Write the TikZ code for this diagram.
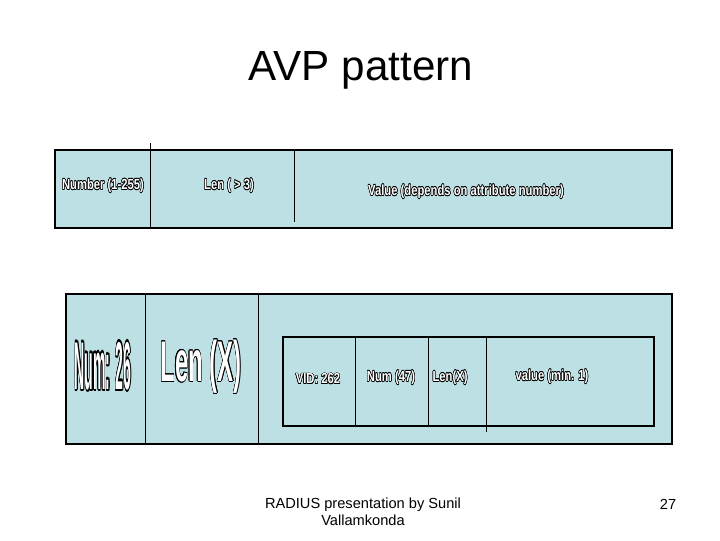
\documentclass[tikz,border=0pt]{standalone}
\usepackage{fontspec}
\setmainfont{Liberation Sans}
\usepackage{contour}
\contourlength{0.35pt}
\contournumber{12}
\usetikzlibrary{positioning}
\definecolor{fieldblue}{RGB}{188,224,228}

% white letters with a thin black rim
\newcommand{\hollow}[1]{\contour{black}{\textcolor{white}{#1}}}

\begin{document}
\begin{tikzpicture}[x=0.025cm, y=-0.025cm,
  box/.style={draw=black, fill=fieldblue, line width=0.8pt},
  sep/.style={draw=black, line width=0.6pt},
  frame/.style={draw=black, line width=0.8pt},
  fld/.style={inner sep=0pt, font=\bfseries\fontsize{8}{9}\selectfont},
  big/.style={inner sep=0pt, font=\bfseries},
  title/.style={font=\fontsize{30}{36}\selectfont},
  foot/.style={font=\fontsize{10.4}{12}\selectfont, align=center}
]
\useasboundingbox (0,0) rectangle (720,540);

\node[title] (ttl) at (361,70) {AVP pattern};

% plain AVP layout
\draw[box] (55,150) rectangle (672,228);
\draw[sep] (150,143) -- (150,228);
\draw[sep] (294,150) -- (294,222);

\node[fld] (number) at (103,186) {\scalebox{1}[1.3]{\hollow{Number (1-255)}}};
\node[fld] (len)    at (229,186) {\scalebox{1}[1.3]{\hollow{Len ( > 3)}}};
\node[fld] (value)  at (466,192) {\scalebox{1}[1.3]{\hollow{Value (depends on attribute number)}}};

% vendor specific AVP
\draw[box] (66,294) rectangle (672,444);
\draw[sep] (145,294) -- (145,444);
\draw[sep] (258,294) -- (258,444);

\draw[frame] (283,337) rectangle (654,426);
\draw[sep] (355,337) -- (355,426);
\draw[sep] (428,337) -- (428,426);
\draw[sep] (486,337) -- (486,432);

\node[big] (num26) at (103,367) {\fontsize{10}{12}\selectfont\scalebox{1}[4.8]{\hollow{Num: 26}}};
\node[big] (lenx)  at (201,367) {\fontsize{17}{20}\selectfont\scalebox{1}[2.4]{\hollow{Len (X)}}};

\node[fld] (vid)    at (318,379) {\scalebox{1}[1.3]{\hollow{VID: 262}}};
\node[fld] (vnum)   at (391,378) {\scalebox{1}[1.3]{\hollow{Num (47)}}};
\node[fld] (vlen)   at (450,378) {\scalebox{1}[1.3]{\hollow{Len(X)}}};
\node[fld] (vvalue) at (552,377) {\scalebox{1}[1.3]{\hollow{value (min. 1)}}};

\node[foot] (credit) at (363,512) {RADIUS presentation by Sunil\\Vallamkonda};
\node[foot] (page)   at (668,504) {27};
\end{tikzpicture}
\end{document}
